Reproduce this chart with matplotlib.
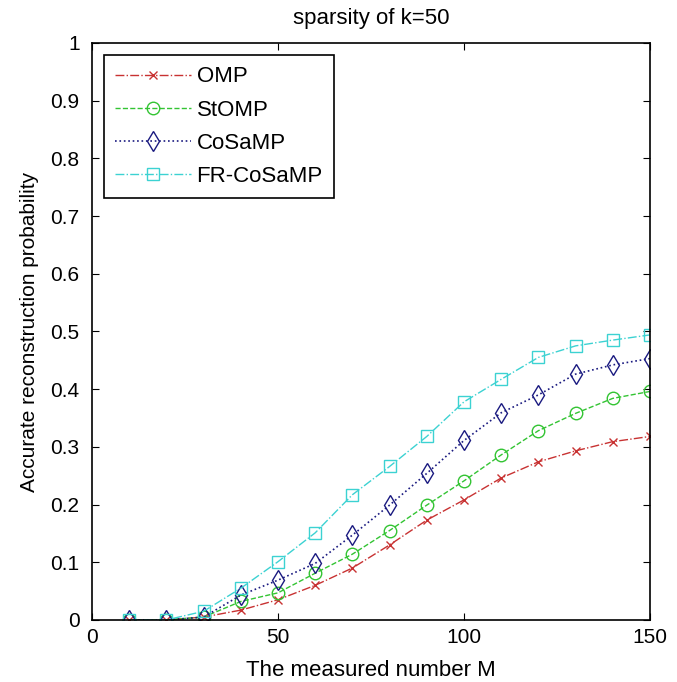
import matplotlib.pyplot as plt

plt.rcParams['font.family'] = ['Liberation Sans', 'DejaVu Sans']

m = [10, 20, 30, 40, 50, 60, 70, 80, 90, 100, 110, 120, 130, 140, 150]
omp = [0, 0, 0.005, 0.017, 0.035, 0.06, 0.09, 0.13, 0.173, 0.208, 0.246, 0.274, 0.293, 0.309, 0.318]
stomp = [0, 0, 0.005, 0.032, 0.047, 0.081, 0.114, 0.155, 0.199, 0.241, 0.286, 0.328, 0.358, 0.384, 0.396]
cosamp = [0, 0, 0.005, 0.043, 0.069, 0.098, 0.147, 0.199, 0.254, 0.311, 0.359, 0.39, 0.426, 0.442, 0.453]
frcosamp = [0, 0, 0.015, 0.055, 0.101, 0.151, 0.217, 0.266, 0.318, 0.378, 0.417, 0.455, 0.475, 0.485, 0.494]

fig = plt.figure(figsize=(6.77, 6.82), dpi=100)
ax = fig.add_axes([0.136, 0.091, 0.824, 0.846])

ax.plot(m, omp, '-.', color='#c83232', marker='x', ms=6, mfc='none', lw=1, label='OMP')
ax.plot(m, stomp, '--', color='#33c433', marker='o', ms=9, mfc='none', lw=1, label='StOMP')
ax.plot(m, cosamp, ':', color='#1a1a80', marker='d', ms=10, mfc='none', lw=1.2, label='CoSaMP')
ax.plot(m, frcosamp, '-.', color='#3cd2d2', marker='s', ms=9, mfc='none', lw=1, label='FR-CoSaMP')

ax.set_xlim(0, 150)
ax.set_ylim(0, 1)
ax.set_xticks([0, 50, 100, 150])
ax.set_yticks([i / 10 for i in range(11)])
ax.set_yticklabels(['0', '0.1', '0.2', '0.3', '0.4', '0.5', '0.6', '0.7', '0.8', '0.9', '1'])
ax.tick_params(direction='in', top=True, right=True, labelsize=15, length=5)
ax.tick_params(axis='y', pad=9)
ax.tick_params(axis='x', pad=6)
for s in ax.spines.values():
    s.set_linewidth(1.2)

ax.set_xlabel('The measured number M', fontsize=16, labelpad=9)
ax.set_ylabel('Accurate reconstruction probability', fontsize=15, labelpad=8)
ax.set_title('sparsity of k=50', fontsize=16, pad=14)

leg = ax.legend(loc='upper left', fontsize=16, fancybox=False, edgecolor='black',
                framealpha=1, handlelength=3.4, borderaxespad=0.55, labelspacing=0.55,
                handletextpad=0.25, borderpad=0.5)
leg.get_frame().set_linewidth(1.2)

fig.savefig('out.png', dpi=100)
